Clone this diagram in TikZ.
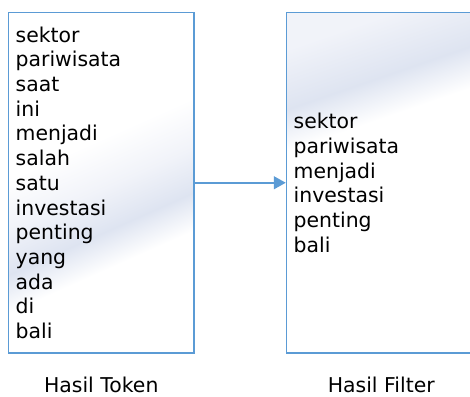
\documentclass[tikz,border=0pt]{standalone}
\usepackage{fontspec}
\setmainfont{DejaVu Sans}
\usepackage{tikz}
\usetikzlibrary{arrows.meta,positioning}
\definecolor{boxline}{HTML}{5B9BD5}
\definecolor{shineA}{HTML}{F1F3F9}
\definecolor{shineB}{HTML}{DEE4F1}
\pgfdeclarehorizontalshading{tokshine}{100bp}{color(0bp)=(white); color(43bp)=(white); color(51bp)=(shineA); color(58bp)=(shineB); color(64bp)=(white); color(100bp)=(white)}
\pgfdeclarehorizontalshading{filshine}{100bp}{color(0bp)=(shineA); color(24bp)=(shineA); color(33.5bp)=(shineB); color(40bp)=(white); color(100bp)=(white)}

\begin{document}
\begin{tikzpicture}[
    >=Stealth,
    x=0.5pt,
    y=-0.5pt,
    every node/.style={font=\fontsize{10.2pt}{12.35pt}\selectfont},
    wordbox/.style={draw=boxline, line width=0.75pt, minimum height=170.25pt, inner xsep=3.6pt, align=left},
    caption/.style={inner sep=0pt},
    flowarrow/.style={-{Triangle[length=6pt, width=6.5pt]}, draw=boxline, line width=0.75pt}
  ]
  \useasboundingbox (0,0) rectangle (470,396);
  %
  \node[wordbox, shading=tokshine, shading angle=-66, text width=85.55pt] (tok) at (101.25,182.75) {sektor\\pariwisata\\saat\\ini\\menjadi\\salah\\satu\\investasi\\penting\\yang\\ada\\di\\bali};
  \node[caption, below=11.6pt of tok] (captok) {Hasil Token};

  %
  \node[wordbox, shading=filshine, shading angle=-71, text width=87.55pt] (fil) at (381.25,182.75) {sektor\\pariwisata\\menjadi\\investasi\\penting\\bali};
  \node[caption, below=11.6pt of fil] (capfil) {Hasil Filter};

  %
  \draw[flowarrow] (tok.east) -- (fil.west);
\end{tikzpicture}
\end{document}
